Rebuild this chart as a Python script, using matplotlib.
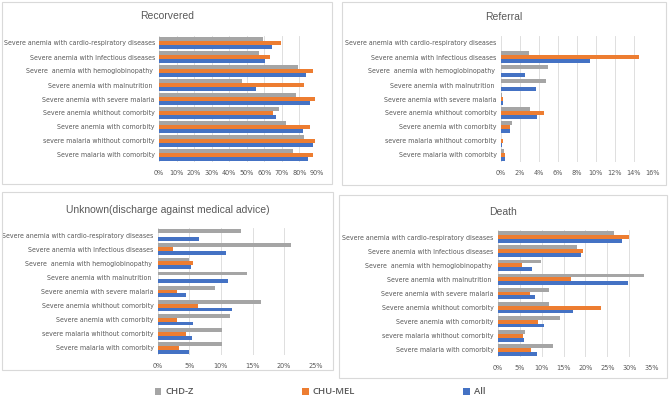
# -*- coding: utf-8 -*-
# four outcome panels (Recovered, Referral, Unknown, Death) by site
import matplotlib
matplotlib.use('Agg')
import matplotlib.pyplot as plt
from matplotlib.patches import Rectangle
from matplotlib.ticker import PercentFormatter

# categories, listed bottom to top as they appear on the chart
categories = ['Severe malaria with comorbity',
              'severe malaria whithout comorbity',
              'Severe anemia with comorbity',
              'Severe anemia whithout comorbity',
              'Severe anemia with severe malaria',
              'Severe anemia with malnutrition ',
              'Severe  anemia with hemoglobinopathy ',
              'Severe anemia with Infectious diseases',
              'Severe anemia with cardio-respiratory diseases']

# values in percent, same order as categories
recovered_all = [84.6, 87.7, 82.0, 66.6, 86.0, 55.0, 83.5, 60.2, 64.1]
recovered_mel = [87.7, 88.6, 86.0, 64.9, 88.6, 82.5, 88.0, 63.0, 69.4]
recovered_chd = [76.1, 82.5, 72.5, 68.1, 78.0, 47.0, 79.1, 57.1, 59.4]

referral_all = [0.45, 0.15, 1.0, 3.8, 0.25, 3.7, 2.6, 9.4, 0]
referral_mel = [0.45, 0.2, 0.95, 4.6, 0.25, 0, 0, 14.6, 0]
referral_chd = [0.35, 0, 1.16, 3.1, 0.18, 4.8, 5.0, 3.0, 0]

unknown_all = [5.0, 5.4, 5.6, 11.8, 4.4, 11.1, 5.2, 10.8, 6.6]
unknown_mel = [3.3, 4.4, 3.0, 6.3, 3.0, 0, 5.6, 2.4, 0]
unknown_chd = [10.1, 10.2, 11.5, 16.4, 9.1, 14.2, 5.0, 21.1, 13.2]

death_all = [9.0, 6.0, 10.6, 17.2, 8.5, 29.6, 7.9, 18.9, 28.3]
death_mel = [7.6, 5.8, 9.2, 23.6, 7.4, 16.6, 5.5, 19.4, 30.0]
death_chd = [12.7, 6.3, 14.1, 11.6, 11.8, 33.3, 9.9, 18.1, 26.6]

series_names = ['CHD-Z', 'CHU-MEL', 'All']
col_chd = '#A5A5A5'
col_mel = '#ED7D31'
col_all = '#4472C4'
txt = '#595959'

plt.rcParams['font.family'] = ['DejaVu Sans']
plt.rcParams['font.stretch'] = 'condensed'

W, H = 669, 403
fig = plt.figure(figsize=(W / 100, H / 100), dpi=100)


def box(x0, y0, x1, y1):
    # light border round each chart area, pixel coords from top-left
    fig.patches.append(Rectangle((x0 / W, 1 - y1 / H), (x1 - x0) / W, (y1 - y0) / H,
                                 transform=fig.transFigure, fill=False,
                                 edgecolor='#D9D9D9', lw=0.8))


def panel(area, plot, title, ty, chd, mel, al, xmax, step):
    bx0, by0, bx1, by1 = area
    box(bx0, by0, bx1, by1)
    x0, y0, x1, y1 = plot
    ax = fig.add_axes([x0 / W, 1 - y1 / H, (x1 - x0) / W, (y1 - y0) / H])
    pos = range(len(categories))
    h = 0.27
    ax.barh([p - h for p in pos], al, height=h, color=col_all, label='All')
    ax.barh(list(pos), mel, height=h, color=col_mel, label='CHU-MEL')
    ax.barh([p + h for p in pos], chd, height=h, color=col_chd, label='CHD-Z')
    ax.set_ylim(-0.5, len(categories) - 0.5)
    ax.set_xlim(0, xmax)
    ax.set_xticks([i * step for i in range(int(round(xmax / step)) + 1)])
    ax.xaxis.set_major_formatter(PercentFormatter(decimals=0))
    ax.set_yticks(list(pos))
    ax.set_yticklabels(categories)
    ax.tick_params(length=0, labelsize=5.0, colors=txt, pad=3)
    ax.tick_params(axis='x', pad=6, labelsize=5.2)
    for s in ax.spines.values():
        s.set_visible(False)
    ax.grid(axis='x', color='#D9D9D9', lw=0.6)
    ax.set_axisbelow(True)
    # title centred on the whole chart area, like Excel
    fig.text((bx0 + bx1) / 2 / W, 1 - ty / H, title, ha='center', va='center',
             fontsize=7.5, color=txt, family=['Liberation Sans', 'DejaVu Sans'],
             fontstretch='normal')
    return ax


ax1 = panel((2, 2, 332, 184), (159, 36, 317, 162), 'Recorvered', 16,
            recovered_chd, recovered_mel, recovered_all, 90, 10)
ax2 = panel((342, 2, 666, 185), (500.7, 36, 652.7, 162), 'Referral', 17,
            referral_chd, referral_mel, referral_all, 16, 2)
ax3 = panel((2, 192, 333, 370), (157.7, 228, 315.7, 355),
            'Unknown(discharge against medical advice)', 210,
            unknown_chd, unknown_mel, unknown_all, 25, 5)
ax4 = panel((339, 195, 667, 378), (497.7, 230, 651.3, 357), 'Death', 212,
            death_chd, death_mel, death_all, 35, 5)

hs, ls = ax1.get_legend_handles_labels()
order = [2, 1, 0]
leg = fig.legend([hs[i] for i in order], [ls[i] for i in order], loc='center',
                 bbox_to_anchor=(320 / W, 1 - 392 / H), ncol=3, frameon=False,
                 columnspacing=11.5, handlelength=0.7, handleheight=0.7,
                 handletextpad=0.4,
                 prop={'family': ['Open Sans', 'DejaVu Sans'], 'size': 6.8,
                       'weight': 'semibold', 'stretch': 'normal'})
for t in leg.get_texts():
    t.set_color(txt)

fig.savefig('out.png', dpi=100)
